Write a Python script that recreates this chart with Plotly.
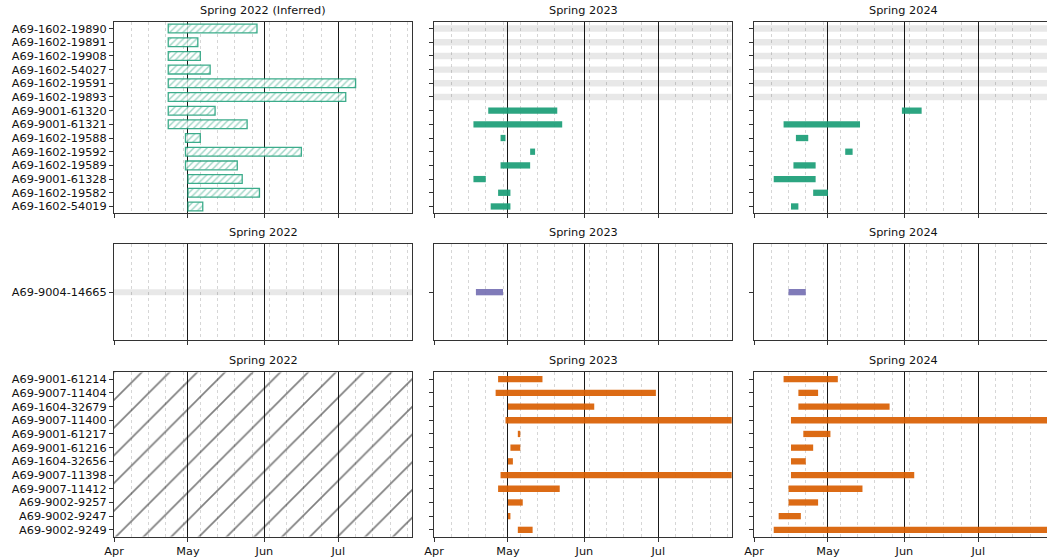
import pandas as pd
import plotly.graph_objects as go

TEAL = "#1b9e77"
PURPLE = "#7570b3"
ORANGE = "#d95f02"
GREY = "rgba(0,0,0,0.09)"

years = [2022, 2023, 2024]
titles_top = ["Spring 2022 (Inferred)", "Spring 2023", "Spring 2024"]
titles = ["Spring 2022", "Spring 2023", "Spring 2024"]
month_ticks = ["Apr", "May", "Jun", "Jul"]

# ---- group 1 (teal) ----
g1_ids = ["A69-1602-19890", "A69-1602-19891", "A69-1602-19908", "A69-1602-54027",
          "A69-1602-19591", "A69-1602-19893", "A69-9001-61320", "A69-9001-61321",
          "A69-1602-19588", "A69-1602-19592", "A69-1602-19589", "A69-9001-61328",
          "A69-1602-19582", "A69-1602-54019"]
g1_2022_start = ["04-23"] * 8 + ["04-30"] * 3 + ["05-01"] * 3
g1_2022_end = ["05-29", "05-05", "05-06", "05-10", "07-08", "07-04", "05-12", "05-25",
               "05-06", "06-16", "05-21", "05-23", "05-30", "05-07"]
g1_2023_start = [None] * 6 + ["04-23", "04-17", "04-28", "05-10", "04-28", "04-17", "04-27", "04-24"]
g1_2023_end = [None] * 6 + ["05-21", "05-23", "04-30", "05-12", "05-10", "04-22", "05-02", "05-02"]
g1_2024_start = [None] * 6 + ["05-31", "04-13", "04-18", "05-08", "04-17", "04-09", "04-25", "04-16"]
g1_2024_end = [None] * 6 + ["06-08", "05-14", "04-23", "05-11", "04-26", "04-26", "05-01", "04-19"]

# ---- group 2 (purple) ----
g2_ids = ["A69-9004-14665"]
g2_2022_start = [None]
g2_2022_end = [None]
g2_2023_start = ["04-18"]
g2_2023_end = ["04-29"]
g2_2024_start = ["04-15"]
g2_2024_end = ["04-22"]

# ---- group 3 (orange) ----
g3_ids = ["A69-9001-61214", "A69-9007-11404", "A69-1604-32679", "A69-9007-11400",
          "A69-9001-61217", "A69-9001-61216", "A69-1604-32656", "A69-9007-11398",
          "A69-9007-11412", "A69-9002-9257", "A69-9002-9247", "A69-9002-9249"]
g3_2022_start = None  # not monitored: whole panel hatched
g3_2022_end = None
g3_2023_start = ["04-27", "04-26", "05-01", "04-30", "05-05", "05-02", "05-01", "04-28",
                 "04-27", "05-01", "05-01", "05-05"]
g3_2023_end = ["05-15", "06-30", "06-05", "08-31", "05-06", "05-06", "05-03", "08-31",
               "05-22", "05-07", "05-02", "05-11"]
g3_2024_start = ["04-13", "04-19", "04-19", "04-16", "04-21", "04-16", "04-16", "04-16",
                 "04-15", "04-15", "04-11", "04-09"]
g3_2024_end = ["05-05", "04-27", "05-26", "08-31", "05-02", "04-25", "04-22", "06-05",
               "05-15", "04-27", "04-20", "08-31"]

groups = [
    dict(ids=g1_ids, color=TEAL, w=0.46, gw=0.47,
         data=[(g1_2022_start, g1_2022_end), (g1_2023_start, g1_2023_end), (g1_2024_start, g1_2024_end)],
         titles=titles_top, inferred=[True, False, False]),
    dict(ids=g2_ids, color=PURPLE, w=0.066, gw=0.063,
         data=[(g2_2022_start, g2_2022_end), (g2_2023_start, g2_2023_end), (g2_2024_start, g2_2024_end)],
         titles=titles, inferred=[False, False, False]),
    dict(ids=g3_ids, color=ORANGE, w=0.46, gw=0.47,
         data=[(g3_2022_start, g3_2022_end), (g3_2023_start, g3_2023_end), (g3_2024_start, g3_2024_end)],
         titles=titles, inferred=[False, False, False]),
]

W, H = 1047, 560
x_px = [(114, 412.3), (434, 731.7), (754, 1047)]
y_px = [(21.7, 213.3), (244.3, 340), (372.3, 536.7)]
px_per_day = (412.3 - 114) / 121.0

FONT = dict(family="DejaVu Sans", size=11.3, color="#111")
MS_DAY = 86400000

fig = go.Figure()
layout = dict(width=W, height=H, autosize=False, margin=dict(l=0, r=0, t=0, b=0),
              plot_bgcolor="white", paper_bgcolor="white", showlegend=False,
              barmode="overlay", font=FONT, annotations=[])


def ms(a, b):
    return (pd.Timestamp(b) - pd.Timestamp(a)).total_seconds() * 1000


for r, g in enumerate(groups):
    n = len(g["ids"])
    yvals = list(range(n))
    for c, yr in enumerate(years):
        k = r * 3 + c + 1
        xa = "x" if k == 1 else f"x{k}"
        ya = "y" if k == 1 else f"y{k}"
        r0 = f"{yr}-04-01"
        width_days = (x_px[c][1] - x_px[c][0]) / px_per_day
        r1 = pd.Timestamp(r0) + pd.Timedelta(days=width_days)
        r1s = r1.strftime("%Y-%m-%d %H:%M")
        starts, ends = g["data"][c]
        if starts is None:
            # whole panel hatched (no deployment)
            fig.add_trace(go.Bar(
                orientation="h", y=[(n - 1) / 2], base=[r0], x=[ms(r0, r1)], width=[n],
                marker=dict(color="white", line=dict(width=0),
                            pattern=dict(shape="/", fgcolor="#000", bgcolor="rgba(0,0,0,0)",
                                         size=19.6, solidity=0.085)),
                xaxis=xa, yaxis=ya, hoverinfo="skip"))
        else:
            # grey bands for missing rows
            gy = [yvals[i] for i in range(n) if starts[i] is None]
            if gy:
                fig.add_trace(go.Bar(
                    orientation="h", y=gy, base=[r0] * len(gy), x=[ms(r0, r1)] * len(gy),
                    width=g["gw"], marker=dict(color=GREY, line=dict(width=0)),
                    xaxis=xa, yaxis=ya, hoverinfo="skip"))
            idx = [i for i in range(n) if starts[i] is not None]
            bs = [f"{yr}-{starts[i]}" for i in idx]
            dur = [ms(f"{yr}-{starts[i]}", f"{yr}-{ends[i]}") for i in idx]
            by = [yvals[i] for i in idx]
            if g["inferred"][c]:
                fig.add_trace(go.Bar(
                    orientation="h", y=by, base=bs, x=dur, width=0.64,
                    marker=dict(color="white", line=dict(width=1.3, color=TEAL),
                                pattern=dict(shape="/", fgcolor=TEAL, bgcolor="white",
                                             size=4.7, solidity=0.3)),
                    opacity=0.85, xaxis=xa, yaxis=ya, hoverinfo="skip"))
            else:
                fig.add_trace(go.Bar(
                    orientation="h", y=by, base=bs, x=dur, width=g["w"],
                    marker=dict(color=g["color"], line=dict(width=0)), opacity=0.92,
                    xaxis=xa, yaxis=ya, hoverinfo="skip"))

        xdom = [x_px[c][0] / W, min(1.0, x_px[c][1] / W)]
        ydom = [1 - y_px[r][1] / H, 1 - y_px[r][0] / H]
        xkey = "xaxis" if k == 1 else f"xaxis{k}"
        ykey = "yaxis" if k == 1 else f"yaxis{k}"
        layout[xkey] = dict(
            domain=xdom, anchor=ya, type="date", range=[r0, r1s],
            tickmode="array",
            tickvals=[f"{yr}-04-01", f"{yr}-05-01", f"{yr}-06-01", f"{yr}-07-01"],
            ticktext=month_ticks,
            showticklabels=(r == 2), ticks="outside", ticklen=4, tickcolor="#333",
            showgrid=True, gridcolor="#1a1a1a", gridwidth=1,
            minor=dict(tick0=f"{yr}-04-01", dtick=7 * MS_DAY, showgrid=True,
                       gridcolor="#d6d6d6", griddash="dot", gridwidth=0.8, ticks=""),
            showline=True, linecolor="#333", linewidth=1, mirror=True,
            zeroline=False, automargin=False, tickfont=FONT, fixedrange=True)
        layout[ykey] = dict(
            domain=ydom, anchor=xa, range=[n - 0.5, -0.5],
            tickmode="array", tickvals=yvals, ticktext=g["ids"],
            showticklabels=(c == 0), ticks="outside", ticklen=4, tickcolor="#333",
            showgrid=False, zeroline=False, showline=True, linecolor="#333",
            linewidth=1, mirror=True, automargin=False, tickfont=FONT, fixedrange=True)
        layout["annotations"].append(dict(
            text=g["titles"][c], xref="paper", yref="paper",
            x=(x_px[c][0] + (x_px[c][0] + 298.3)) / 2 / W, y=ydom[1],
            xanchor="center", yanchor="bottom", yshift=3, showarrow=False,
            font=FONT))

fig.update_layout(**layout)
fig.write_html("out.html", config={"displayModeBar": False},
               post_script="document.body.style.margin='0';document.body.style.overflow='hidden';")
